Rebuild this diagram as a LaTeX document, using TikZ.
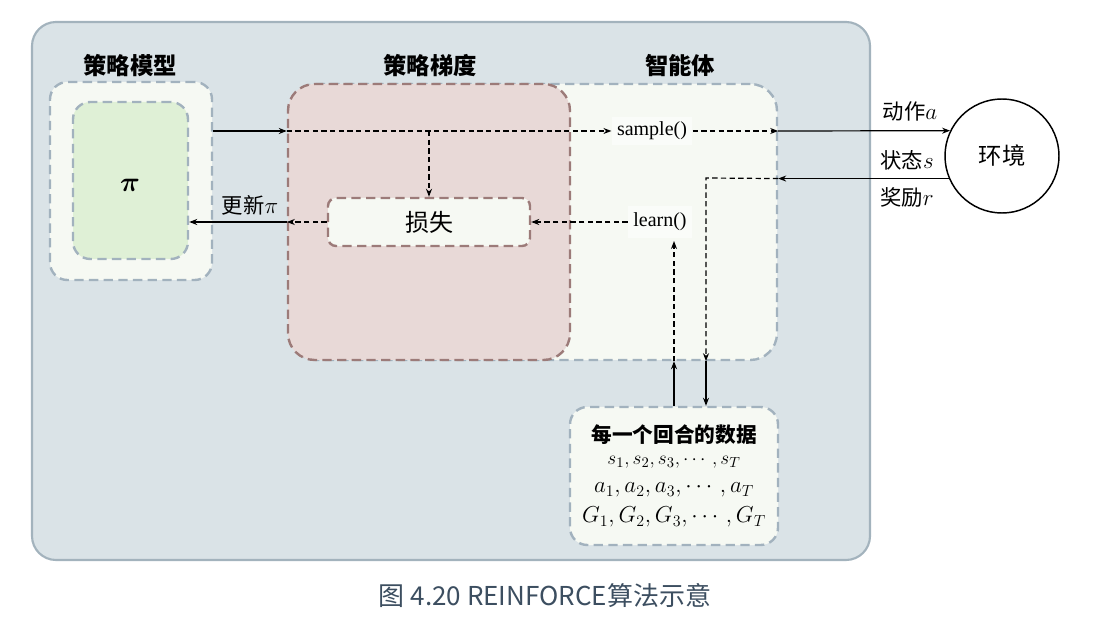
\documentclass[tikz,border=0pt]{standalone}
\usepackage{amsmath}
\usepackage{fontspec}
\setmainfont{Liberation Serif}
\newfontfamily\cjk{Noto Sans CJK SC}
\usetikzlibrary{arrows.meta,fit,calc}
\definecolor{bgblue}{HTML}{DAE3E7}
\definecolor{bgborder}{HTML}{A3B3BD}
\definecolor{dashblue}{HTML}{A2B2BE}
\definecolor{paleg}{HTML}{F6F9F3}
\definecolor{greenf}{HTML}{DFF0D6}
\definecolor{redf}{HTML}{E8D9D7}
\definecolor{redb}{HTML}{9C7B79}
\definecolor{capc}{HTML}{3C4E60}
\tikzset{
  fs/.style={font=\fontsize{#1}{#1}\selectfont},
  outerbox/.style={draw=bgborder,fill=bgblue,line width=1.6pt,rounded corners=18pt,inner sep=0pt},
  dbox/.style={draw=dashblue,fill=paleg,line width=1.8pt,dash pattern=on 7pt off 4pt,rounded corners=13pt,inner sep=0pt},
  rbox/.style={draw=redb,fill=redf,line width=1.8pt,dash pattern=on 7pt off 4pt,rounded corners=20pt,inner sep=0pt},
  lbox/.style={draw=redb,fill=paleg,line width=1.8pt,dash pattern=on 7pt off 4pt,rounded corners=6pt,inner sep=0pt},
  title/.style={font=\cjk\bfseries\fontsize{17.5}{17.5}\selectfont},
  cjklab/.style={font=\cjk\fontsize{16}{16}\selectfont},
  fn/.style={fill=white!50!paleg,inner sep=4pt,font=\fontsize{15}{15}\selectfont},
  sarr/.style={-{Stealth[length=6pt,width=4.5pt]},line width=0.9pt},
  darr/.style={-{Stealth[length=6pt,width=4.5pt]},line width=0.9pt,dash pattern=on 4pt off 2.5pt},
}
\begin{document}
\begin{tikzpicture}[x=0.75pt,y=-0.75pt]
\useasboundingbox (0,0) rectangle (1097,627);
\node[outerbox,fit={(32,22) (870,560)}] (main) {};
% policy model
\node[dbox,fit={(50,82) (212,280)}] (model) {};
\node[dbox,fill=greenf,fit={(73,102) (188,259)}] (pi) {};
\node[fs=20] (pisym) at (130,185) {$\boldsymbol{\pi}$};
\node[title] (t1) at (130,66) {策略模型};
% agent and policy gradient
\node[dbox,rounded corners=20pt,fit={(290,84) (777,360)}] (agent) {};
\node[rbox,fit={(288,84) (570,360)}] (grad) {};
\node[lbox,fit={(328,198) (530,246)}] (loss) {};
\node[font=\cjk\fontsize{18}{18}\selectfont] (losst) at (loss.center) {损失};
\node[title] (t2) at (430,66) {策略梯度};
\node[title] (t3) at (680,66) {智能体};
\node[fn] (sample) at (652,131) {sample()};
\node[fn,inner ysep=5pt] (learn) at (660,222) {learn()};
% environment
\node[draw,circle,line width=1.1pt,fill=white,minimum size=85.5pt,inner sep=0pt,font=\cjk\fontsize{17.5}{17.5}\selectfont] (env) at (1002,156) {环境};
% data box
\node[dbox,fit={(570,407) (778,545)}] (data) {};
\node[font=\cjk\bfseries\fontsize{15.5}{15.5}\selectfont] (d0) at (674,435) {每一个回合的数据};
\node[fs=15] (d1) at (674,462) {$s_1,s_2,s_3,\cdots,s_T$};
\node[fs=18] (d2) at (674,490) {$a_1,a_2,a_3,\cdots,a_T$};
\node[fs=18] (d3) at (674,517) {$G_1,G_2,G_3,\cdots,G_T$};
% helper coordinates
\coordinate (turn) at (706,178);
\coordinate (upx) at (674,300);
% forward path
\draw[sarr] (model.east |- sample) -- (grad.west |- sample);
\draw[darr] (grad.west |- sample) -- (sample.west);
\draw[darr] (sample.east) -- (agent.east |- sample);
\draw[sarr] (agent.east |- sample) -- (env.154);
\draw[darr] (loss.north |- sample) -- (loss.north);
% from environment
\draw[sarr] (env.203) -- (env.203 -| agent.east);
\draw[darr] (env.203 -| agent.east) -- (turn) -- (turn |- agent.south);
\draw[sarr] (turn |- agent.south) -- (turn |- data.north);
% data to learn
\draw[sarr] (upx |- data.north) -- (upx |- agent.south);
\draw[darr] (upx |- agent.south) -- ($(upx |- learn.south)+(0,3)$);
% learn to loss to pi
\draw[darr] (learn.west) -- (loss.east);
\draw[darr] (loss.west) -- (grad.west |- loss);
\draw[sarr] (grad.west |- loss) -- (pi.east |- loss);
% labels
\node[cjklab] (upd) at (250,205) {更新$\pi$};
\node[cjklab] (act) at (910,111) {动作$a$};
\node[cjklab] (st) at (907,160) {状态$s$};
\node[cjklab] (rw) at (907,197) {奖励$r$};
% caption
\node[font=\cjk\fontsize{19.5}{19.5}\selectfont,text=capc] (cap) at (545,596) {图 4.20 REINFORCE算法示意};
\end{tikzpicture}
\end{document}
